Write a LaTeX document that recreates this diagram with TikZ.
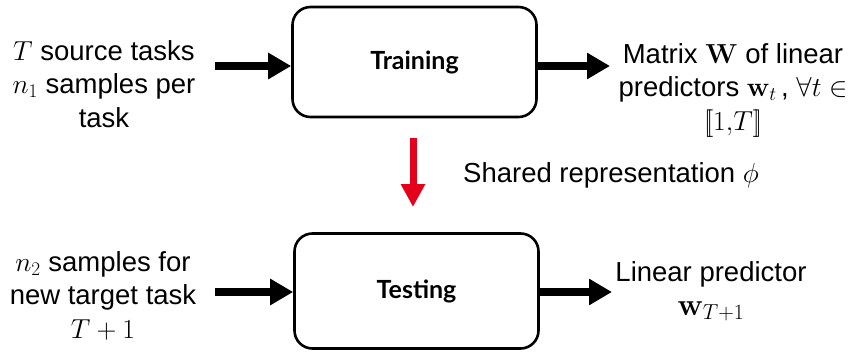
\RequirePackage{fix-cm}
\documentclass[tikz,border=0pt]{standalone}
\usepackage[no-math]{fontspec}
\setmainfont{Liberation Sans}
\newfontfamily\boxfont{Lato}
\usetikzlibrary{arrows.meta}
\tikzset{
  stage/.style={draw, line width=2.6pt, rounded corners=18pt, minimum width=244pt,
    font=\boxfont\bfseries\fontsize{25}{29}\selectfont},
  label/.style={align=center, font=\fontsize{27.5}{33.5}\selectfont, inner sep=0pt},
  flow/.style={line width=8pt, -{Triangle[length=23pt,width=25pt]}},
  share/.style={line width=7pt, draw={rgb,255:red,228;green,0;blue,27},
    -{Triangle[length=23pt,width=23pt]}}
}
\begin{document}
\begin{tikzpicture}[x=1pt,y=-1pt]
\useasboundingbox (0,0) rectangle (858,353);
% processing stages
\node[stage, minimum height=110pt] (train) at (414.5,62) {Training};
\node[stage, minimum height=115pt] (test) at (416.5,291) {Testing};
% inputs and outputs (anchored at the baseline of their last line)
\node[label, anchor=base] (srcin) at (104,127) {$T$ source tasks\\$n_1$ samples per\\task};
\node[label, anchor=base] (srcout) at (733,130) {Matrix $\mathbf{W}$ of linear\\predictors $\mathbf{w}_t$\,, $\forall t\in$\\$[\![1{,}T]\!]$};
\node[label, anchor=base] (tgtin) at (103,338) {$n_2$ samples for\\new target task\\$T+1$};
\node[label, anchor=base] (tgtout) at (711,315) {Linear predictor\\[0pt]{\fontsize{31}{34}\selectfont$\mathbf{w}_{T+1}$}};
\node[label, anchor=base west] (phi) at (463,182) {Shared representation $\phi$};
% free ends of the arrows
\coordinate (a1) at (215,66);
\coordinate (a2) at (610,66);
\coordinate (b1) at (215,292);
\coordinate (b2) at (612,292);
\coordinate (r1) at (413,138);
\coordinate (r2) at (413,207);
\draw[flow] (a1) -- (a1 -| train.west);
\draw[flow] (a2 -| train.east) -- (a2);
\draw[flow] (b1) -- (b1 -| test.west);
\draw[flow] (b2 -| test.east) -- (b2);
\draw[share] (r1) -- (r2);
\end{tikzpicture}
\end{document}
